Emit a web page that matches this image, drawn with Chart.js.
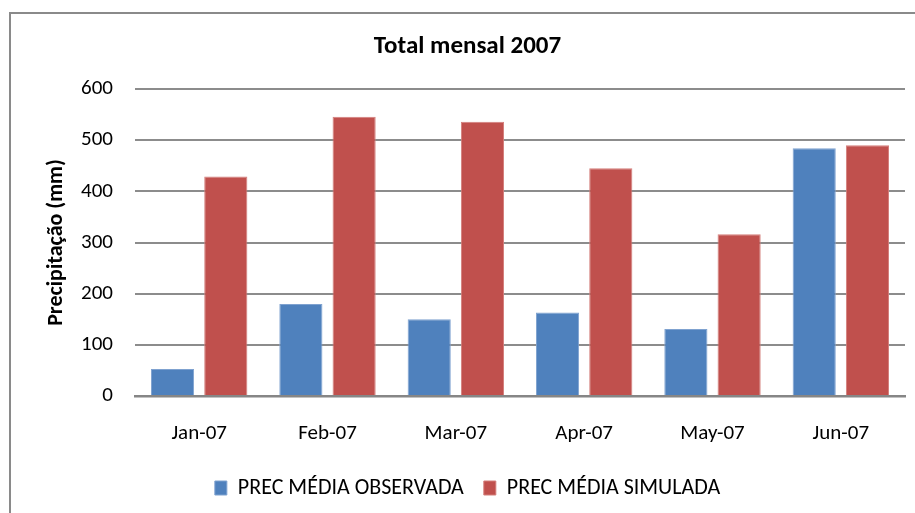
<!DOCTYPE html>
<html>
<head>
<meta charset="utf-8">
<script src="https://cdn.jsdelivr.net/npm/chart.js@4.4.0/dist/chart.umd.min.js"></script>
<style>
  html, body { margin: 0; padding: 0; background: #fff; }
  #frame {
    position: absolute; left: 9px; top: 12px; width: 920px; height: 520px;
    border-top: 2px solid #8a8a8a; border-left: 2px solid #8a8a8a;
  }
  #wrap { position: absolute; left: 0; top: 0; width: 915px; height: 513px; }
</style>
</head>
<body>
<div id="frame"></div>
<div id="wrap"><canvas id="chart"></canvas></div>
<script>
const months = ["Jan-07", "Feb-07", "Mar-07", "Apr-07", "May-07", "Jun-07"];
const precObservada = [53, 180, 150, 163, 131, 484];
const precSimulada = [429, 546, 536, 445, 316, 490];
const yTicks = [0, 100, 200, 300, 400, 500, 600];

const FONT = "Carlito, Calibri, Lato, sans-serif";

new Chart(document.getElementById("chart"), {
  type: "bar",
  data: {
    labels: months,
    datasets: [
      {
        label: "PREC MÉDIA OBSERVADA",
        data: precObservada,
        backgroundColor: "#4f81bd",
        borderColor: "#7fa2d0",
        borderWidth: 1,
        barPercentage: 0.81,
        categoryPercentage: 0.83
      },
      {
        label: "PREC MÉDIA SIMULADA",
        data: precSimulada,
        backgroundColor: "#c0504d",
        borderColor: "#d47e7b",
        borderWidth: 1,
        barPercentage: 0.81,
        categoryPercentage: 0.83
      }
    ]
  },
  options: {
    responsive: true,
    maintainAspectRatio: false,
    animation: false,
    layout: { padding: { left: 20, right: 0, top: 0, bottom: 4 } },
    plugins: {
      title: {
        display: true,
        text: "Total mensal 2007",
        color: "#000",
        font: { family: FONT, size: 25, weight: "bold" },
        padding: { top: 32, bottom: 27 }
      },
      legend: {
        position: "bottom",
        labels: {
          color: "#000",
          font: { family: FONT, size: 22 },
          boxWidth: 12,
          boxHeight: 14,
          padding: 20
        }
      },
      tooltip: { enabled: false }
    },
    scales: {
      x: {
        afterFit: s => { s.height = 61; },
        grid: { display: false, drawTicks: false },
        border: { display: true, color: "#868686", width: 2.5 },
        ticks: { color: "#000", font: { family: FONT, size: 21 }, padding: 25 }
      },
      y: {
        min: 0,
        max: 600,
        afterFit: s => { s.width = 115; },
        afterBuildTicks: axis => { axis.ticks = yTicks.map(v => ({ value: v })); },
        grid: { color: "#8c8c8c", lineWidth: 2, drawTicks: false },
        border: { display: false },
        ticks: { color: "#000", font: { family: FONT, size: 21 }, padding: 22 },
        title: {
          display: true,
          text: "Precipitação (mm)",
          color: "#000",
          font: { family: FONT, size: 22, weight: "bold" },
          padding: { top: 23, bottom: 0 }
        }
      },
      // empty spacer on the right so the plot ends where the original does
      spacer: {
        type: "linear",
        position: "right",
        afterFit: s => { s.width = 10; },
        grid: { display: false, drawTicks: false },
        border: { display: false },
        ticks: { display: false }
      }
    }
  }
});
</script>
</body>
</html>
